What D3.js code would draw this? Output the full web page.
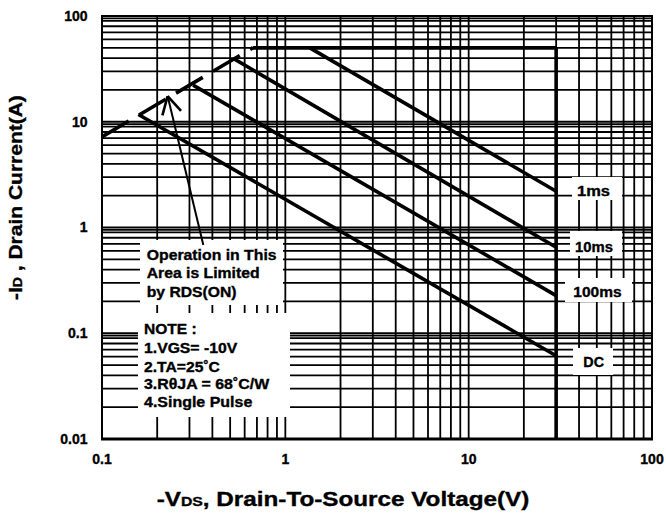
<!DOCTYPE html>
<html><head><meta charset="utf-8">
<script src="https://cdn.jsdelivr.net/npm/d3@7"></script>
<style>
body{margin:0;background:#fff}
svg{display:block}
text{font-family:"Liberation Sans",Arial,Helvetica,sans-serif;font-weight:bold;fill:#000;stroke:#000;stroke-width:0.35px}
</style>
</head><body>
<svg id="c" width="666" height="515"></svg>
<script>
// ---- data ----
const xTickValues = [0.1, 1, 10, 100];
const xTickLabels = ["0.1", "1", "10", "100"];
const yTickValues = [0.01, 0.1, 1, 10, 100];
const yTickLabels = ["0.01", "0.1", "1", "10", "100"];
const seriesNames  = ["1ms", "10ms", "100ms", "DC"];
const seriesStartV = [1.36, 0.52, 0.314, 0.158];
const seriesStartI = [50, 39.7, 22.2, 11.7];
const seriesEndV   = [30, 30, 30, 30];
const seriesEndI   = [2.2, 0.65, 0.227, 0.0612];
const rdsLimitV = [0.1, 0.664];
const rdsLimitI = [7.2, 50];
const currentLimitV = [0.664, 30];
const currentLimitI = [50, 50];
const voltageLimitV = [30, 30];
const voltageLimitI = [50, 0.01];
const rdsNoteLines = ["Operation in This", "Area is Limited", "by RDS(ON)"];
const noteLines = ["NOTE :", "1.VGS= -10V", "2.TA=25˚C", "3.RθJA = 68˚C/W", "4.Single Pulse"];
const arrowTailV = 0.357, arrowTailI = 0.683;
const arrowTipV = 0.228, arrowTipI = 17.5;

// ---- layout ----
const svg = d3.select("#c");
const x = d3.scaleLog().domain([0.1, 100]).range([102, 652]);
const y = d3.scaleLog().domain([0.01, 100]).range([439, 16]);

// grid
const vGrid = [];
for (let e = -1; e <= 1; e++) for (let k = 1; k <= 9; k++) vGrid.push(k * Math.pow(10, e));
vGrid.push(100);
const hGrid = [];
for (let e = -2; e <= 1; e++) { for (let k = 1; k <= 9; k++) hGrid.push(k * Math.pow(10, e)); hGrid.push(9.5 * Math.pow(10, e)); }
hGrid.push(100);

const grid = svg.append("g").attr("stroke", "#000").attr("stroke-width", 1.8);
grid.selectAll("line.v").data(vGrid).join("line").attr("class", "v")
  .attr("x1", d => x(d)).attr("x2", d => x(d)).attr("y1", y(100)).attr("y2", y(0.01));
grid.selectAll("line.h").data(hGrid).join("line").attr("class", "h")
  .attr("y1", d => y(d)).attr("y2", d => y(d)).attr("x1", x(0.1)).attr("x2", x(100));

// frame
svg.append("rect").attr("x", x(0.1)).attr("y", y(100)).attr("width", x(100) - x(0.1)).attr("height", y(0.01) - y(100))
  .attr("fill", "none").attr("stroke", "#000").attr("stroke-width", 2);
svg.append("line").attr("x1", x(0.1) - 1).attr("x2", x(100) + 1).attr("y1", y(0.01)).attr("y2", y(0.01))
  .attr("stroke", "#000").attr("stroke-width", 3);

// curves
const line = d3.line().x(d => x(d[0])).y(d => y(d[1]));
const curves = svg.append("g").attr("fill", "none").attr("stroke", "#000").attr("stroke-width", 3.6);
curves.append("path").attr("d", line(rdsLimitV.map((v, i) => [v, rdsLimitI[i]])))
  .attr("stroke-dasharray", "31,12");
curves.append("path").attr("d", line(currentLimitV.map((v, i) => [v, currentLimitI[i]])));
curves.append("path").attr("d", line(voltageLimitV.map((v, i) => [v, voltageLimitI[i]])));
seriesNames.forEach((n, i) => {
  curves.append("path").attr("d", line([[seriesStartV[i], seriesStartI[i]], [seriesEndV[i], seriesEndI[i]]]));
});

// white boxes
const boxes = [
  [140, 240, 143, 65], [138, 313, 152, 104],
  [572, 177, 50, 23], [570, 231, 52, 25], [565, 278, 67, 24], [573, 348, 40, 27]
];
svg.append("g").selectAll("rect").data(boxes).join("rect")
  .attr("x", d => d[0]).attr("y", d => d[1]).attr("width", d => d[2]).attr("height", d => d[3]).attr("fill", "#fff");

// helper: fitted text
function fitted(parent, tx, ty, width, size, build, rot) {
  const g = parent.append("g");
  const t = g.append("text").attr("x", 0).attr("y", 0).style("font-size", size + "px");
  build(t);
  const w = t.node().getComputedTextLength();
  const k = width / w;
  g.attr("transform", `translate(${tx},${ty})` + (rot ? ` rotate(${rot})` : "") + ` scale(${k},1)`);
  return g;
}

// series labels
const labelX = [577, 575, 573.3, 583.3];
const labelW = [33, 38, 48.3, 20.7];
const labelB = [196, 251.7, 296.7, 366.7];
seriesNames.forEach((n, i) => fitted(svg, labelX[i], labelB[i], labelW[i], 14.5, t => t.text(n)));

// RDS note
const rdsW = [130, 113, 90];
rdsNoteLines.forEach((s, i) => fitted(svg, 146.7, 260 + i * 18.35, rdsW[i], 14.5, t => t.text(s)));
// note box
const noteW = [52.7, 93.3, 76, 125.3, 108.3];
const noteB = [334, 353.3, 371.7, 389.3, 406.7];
noteLines.forEach((s, i) => fitted(svg, 144, noteB[i], noteW[i], 14.5, t => t.text(s)));

// arrow
const ax0 = x(arrowTailV), ay0 = y(arrowTailI), ax1 = x(arrowTipV), ay1 = y(arrowTipI);
const arrow = svg.append("g").attr("stroke", "#000").attr("fill", "none").attr("stroke-linecap", "butt");
arrow.append("line").attr("x1", ax0).attr("y1", ay0).attr("x2", ax1).attr("y2", ay1).attr("stroke-width", 2);
const ang = Math.atan2(ay0 - ay1, ax0 - ax1);
[-0.5, 0.5].forEach(s => {
  arrow.append("line").attr("x1", ax1).attr("y1", ay1)
    .attr("x2", ax1 + 20 * Math.cos(ang + s)).attr("y2", ay1 + 20 * Math.sin(ang + s))
    .attr("stroke-width", 2.6);
});

// tick labels
svg.append("g").selectAll("text").data(xTickValues).join("text")
  .attr("x", d => x(d)).attr("y", 464).attr("text-anchor", "middle").style("font-size", "14px")
  .text((d, i) => xTickLabels[i]);
svg.append("g").selectAll("text").data(yTickValues).join("text")
  .attr("x", 87.5).attr("y", d => y(d) + 4.8).attr("text-anchor", "end").style("font-size", "14px")
  .text((d, i) => yTickLabels[i]);

// axis titles
fitted(svg, 156.7, 506, 373, 20, t => {
  t.append("tspan").text("-V");
  t.append("tspan").style("font-size", "13px").text("DS");
  t.append("tspan").text(", Drain-To-Source Voltage(V)");
});
fitted(svg, 22, 300, 205, 18, t => {
  t.append("tspan").text("-I");
  t.append("tspan").style("font-size", "12px").text("D");
  t.append("tspan").text(" , Drain Current(A)");
}, -90);
</script>
</body></html>
